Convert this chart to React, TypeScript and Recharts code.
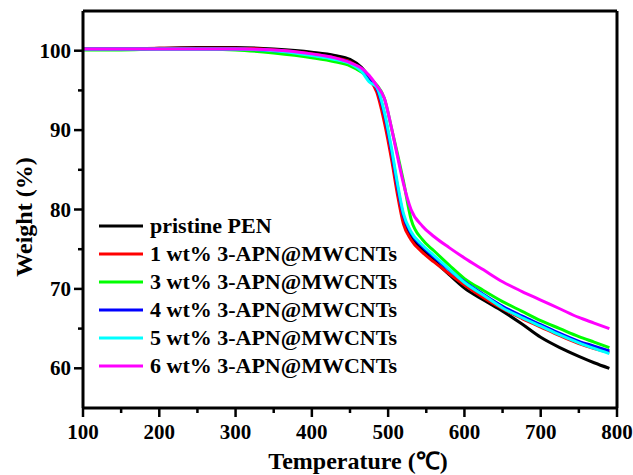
import { LineChart, Line, XAxis, YAxis, ReferenceLine, Legend, Label } from "recharts";

const FONT = "'Liberation Serif', 'Times New Roman', serif";

// temperature in degC
const temps = [100, 150, 200, 250, 300, 350, 400, 430, 450, 465, 475, 485, 495, 505, 512, 520, 530, 545, 560, 580, 600, 625, 650, 675, 700, 725, 750, 770, 790];

const pristine = [100.2, 100.2, 100.3, 100.4, 100.4, 100.2, 99.8, 99.4, 98.9, 97.9, 96.7, 95.2, 91.6, 86.6, 82.6, 78.6, 76.6, 75.0, 73.6, 71.8, 70.1, 68.6, 67.2, 65.6, 63.9, 62.6, 61.5, 60.7, 60.0];
const wt1 = [100.2, 100.2, 100.3, 100.3, 100.3, 100.1, 99.6, 99.1, 98.6, 97.6, 96.4, 94.8, 91.0, 86.0, 82.0, 78.2, 76.2, 74.6, 73.4, 71.9, 70.5, 68.9, 67.5, 66.3, 65.2, 64.1, 63.1, 62.5, 62.0];
const wt3 = [100.1, 100.1, 100.2, 100.2, 100.1, 99.7, 99.1, 98.6, 98.1, 97.3, 96.5, 95.7, 94.0, 90.0, 87.1, 83.6, 78.8, 76.2, 74.8, 73.0, 71.3, 69.8, 68.4, 67.2, 66.0, 65.0, 64.0, 63.3, 62.6];
const wt4 = [100.2, 100.2, 100.2, 100.2, 100.2, 100.0, 99.5, 99.0, 98.5, 97.5, 96.3, 95.3, 92.0, 87.0, 83.0, 79.2, 77.0, 75.3, 74.0, 72.4, 70.9, 69.3, 67.8, 66.6, 65.5, 64.4, 63.4, 62.8, 62.2];
const wt5 = [100.2, 100.2, 100.2, 100.2, 100.2, 100.0, 99.4, 98.9, 98.4, 97.4, 96.1, 95.4, 92.3, 87.4, 83.4, 79.5, 77.2, 75.5, 74.2, 72.5, 70.8, 69.2, 67.6, 66.4, 65.3, 64.2, 63.2, 62.5, 61.85];
const wt6 = [100.2, 100.2, 100.2, 100.2, 100.2, 100.1, 99.6, 99.1, 98.5, 97.8, 96.9, 95.6, 94.0, 90.0, 86.8, 83.3, 80.0, 77.9, 76.6, 75.2, 73.9, 72.4, 70.9, 69.7, 68.6, 67.5, 66.4, 65.7, 65.0];

const seriesNames = ["pristine PEN", "1 wt% 3-APN@MWCNTs", "3 wt% 3-APN@MWCNTs", "4 wt% 3-APN@MWCNTs", "5 wt% 3-APN@MWCNTs", "6 wt% 3-APN@MWCNTs"];
const seriesColors = ["#000000", "#FF0000", "#00FF00", "#0000FF", "#00FFFF", "#FF00FF"];
const seriesValues = [pristine, wt1, wt3, wt4, wt5, wt6];

const xTicks = [100, 150, 200, 250, 300, 350, 400, 450, 500, 550, 600, 650, 700, 750, 800];
const yTicks = [60, 65, 70, 75, 80, 85, 90, 95, 100];

const data = temps.map((t, i) => {
  const row: Record<string, number> = { t };
  seriesValues.forEach((vals, k) => {
    row["s" + k] = vals[i];
  });
  return row;
});

const XTick = (props: any) => {
  const { x, y, payload } = props;
  const major = payload.value % 100 === 0;
  return (
    <g>
      <line x1={x} y1={y} x2={x} y2={y + (major ? 9 : 5)} stroke="#000" strokeWidth={2.5} />
      {major && (
        <text x={x} y={y + 31} textAnchor="middle" fontFamily={FONT} fontWeight="bold" fontSize={21} fill="#000">
          {payload.value}
        </text>
      )}
    </g>
  );
};

const YTick = (props: any) => {
  const { x, y, payload } = props;
  const major = payload.value % 10 === 0;
  return (
    <g>
      <line x1={x} y1={y} x2={x - (major ? 9 : 5)} y2={y} stroke="#000" strokeWidth={2.5} />
      {major && (
        <text x={x - 12} y={y + 7} textAnchor="end" fontFamily={FONT} fontWeight="bold" fontSize={21} fill="#000">
          {payload.value}
        </text>
      )}
    </g>
  );
};

const LegendBox = () => (
  <div style={{ fontFamily: FONT, fontWeight: "bold", fontSize: 22, color: "#000" }}>
    {seriesNames.map((name, k) => (
      <div key={name} style={{ display: "flex", alignItems: "center", height: 28, whiteSpace: "nowrap" }}>
        <svg width={44} height={4} style={{ marginRight: 7 }}>
          <line x1={0} y1={2} x2={44} y2={2} stroke={seriesColors[k]} strokeWidth={3} />
        </svg>
        <span>{name}</span>
      </div>
    ))}
  </div>
);

export default function App() {
  return (
    <div style={{ width: 625, height: 467, background: "#fff", overflow: "visible" }}>
      <style>{"body { overflow: visible !important; } .recharts-wrapper, .recharts-surface { overflow: visible !important; }"}</style>
      <LineChart
        width={625}
        height={467}
        data={data}
        style={{ overflow: "visible" }}
        margin={{ top: 3, right: 16, left: 15, bottom: 27 }}
      >
        <XAxis
          dataKey="t"
          type="number"
          domain={[100, 800]}
          ticks={xTicks}
          interval={0}
          allowDataOverflow
          height={40}
          tickSize={0}
          tickMargin={0}
          tick={<XTick />}
          axisLine={{ stroke: "#000", strokeWidth: 3 }}
        >
          <Label
            content={() => (
              <text x={350} y={461} textAnchor="middle" fontFamily={FONT} fontWeight="bold" fontSize={24} fill="#000">
                Temperature (℃)
              </text>
            )}
          />
        </XAxis>
        <YAxis
          type="number"
          domain={[55, 105]}
          ticks={yTicks}
          interval={0}
          allowDataOverflow
          width={60}
          tickSize={0}
          tickMargin={0}
          tick={<YTick />}
          axisLine={{ stroke: "#000", strokeWidth: 3 }}
        >
          <Label
            content={() => (
              <text
                x={16}
                y={209}
                transform="rotate(-90, 16, 209)"
                textAnchor="middle"
                dominantBaseline="central"
                fontFamily={FONT}
                fontWeight="bold"
                fontSize={24}
                fill="#000"
              >
                Weight (%)
              </text>
            )}
          />
        </YAxis>
        <ReferenceLine y={105} stroke="#000" strokeWidth={3} ifOverflow="visible" />
        <ReferenceLine x={800} stroke="#000" strokeWidth={3} ifOverflow="visible" />
        <Legend
          layout="vertical"
          align="center"
          verticalAlign="middle"
          content={<LegendBox />}
          wrapperStyle={{ left: 91, top: 204, width: "auto" }}
        />
        {seriesNames.map((name, k) => (
          <Line
            key={name}
            name={name}
            dataKey={"s" + k}
            type="monotone"
            stroke={seriesColors[k]}
            strokeWidth={3}
            dot={false}
            isAnimationActive={false}
          />
        ))}
      </LineChart>
    </div>
  );
}
